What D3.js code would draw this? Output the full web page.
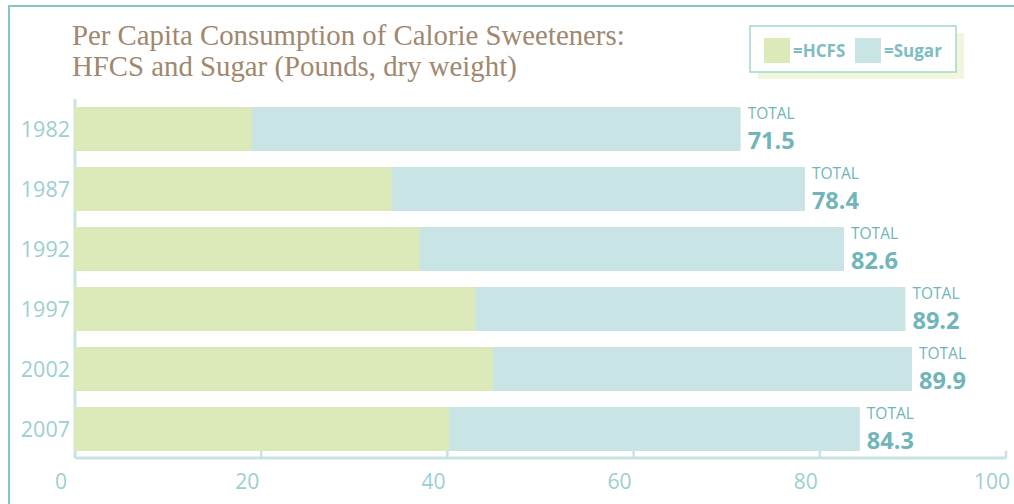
<!DOCTYPE html>
<html>
<head>
<meta charset="utf-8">
<script src="https://cdn.jsdelivr.net/npm/d3@7/dist/d3.min.js"></script>
<style>
  body { margin: 0; background: #fff; }
  svg { display: block; }
</style>
</head>
<body>
<div id="chart"></div>
<script>
'use strict';

// Data
var years = ['1982', '1987', '1992', '1997', '2002', '2007'];
var hfcs = [19.0, 34.0, 37.0, 43.0, 44.9, 40.2];
var totals = [71.5, 78.4, 82.6, 89.2, 89.9, 84.3];
var xTicks = [0, 20, 40, 60, 80, 100];
var titleLines = ['Per Capita Consumption of Calorie Sweeteners:', 'HFCS and Sugar (Pounds, dry weight)'];
var legendItems = ['=HCFS', '=Sugar'];

var W = 1014, H = 504;
var colors = {hfcs: '#dce9b9', sugar: '#c9e4e4', axis: '#c8e3e4', tick: '#9ccfd0',
  frame: '#86c6ca', title: '#a0886e', total: '#6fb5b9'};

var rows = years.map(function(y, i) {
  return {year: y, hfcs: hfcs[i], total: totals[i]};
});

var svg = d3.select('#chart').append('svg')
  .attr('width', W)
  .attr('height', H);

// Frame
svg.append('path')
  .attr('d', 'M9,' + H + 'V6H' + W)
  .attr('fill', 'none')
  .attr('stroke', colors.frame)
  .attr('stroke-width', 2);

// Scales
var x = d3.scaleLinear().domain([0, 100]).range([75, 1006]);
var y = d3.scaleBand().domain(years).range([99, 459])
  .paddingInner(16 / 60).paddingOuter(8 / 60);

// Axis frame (left line + bottom line with upward ticks)
var axisY = 458;
svg.append('line')
  .attr('x1', x(0)).attr('x2', x(0))
  .attr('y1', 99).attr('y2', axisY)
  .attr('stroke', colors.axis).attr('stroke-width', 3);

var xAxis = svg.append('g').attr('transform', 'translate(0,' + axisY + ')');
xAxis.append('line')
  .attr('x1', x(0)).attr('x2', x(100))
  .attr('stroke', colors.axis).attr('stroke-width', 3);
xAxis.selectAll('.tick').data(xTicks).enter().append('line')
  .attr('class', 'tick')
  .attr('x1', function(d) { return x(d); })
  .attr('x2', function(d) { return x(d); })
  .attr('y1', 0).attr('y2', -7)
  .attr('stroke', colors.axis).attr('stroke-width', 2.5);
xAxis.selectAll('.lbl').data(xTicks).enter().append('text')
  .attr('class', 'lbl')
  .attr('x', function(d) { return x(d) - 14; })
  .attr('y', 31)
  .attr('text-anchor', 'middle')
  .attr('font-family', 'Open Sans, sans-serif')
  .attr('font-size', 21)
  .attr('fill', colors.tick)
  .text(function(d) { return d; });

// Bars
var bars = svg.append('g');
bars.selectAll('.sugar').data(rows).enter().append('rect')
  .attr('x', x(0) - 1)
  .attr('y', function(d) { return y(d.year); })
  .attr('width', function(d) { return x(d.total) - x(0) + 1; })
  .attr('height', y.bandwidth())
  .attr('fill', colors.sugar);
bars.selectAll('.hfcs').data(rows).enter().append('rect')
  .attr('x', x(0) - 1)
  .attr('y', function(d) { return y(d.year); })
  .attr('width', function(d) { return x(d.hfcs) - x(0) + 1; })
  .attr('height', y.bandwidth())
  .attr('fill', colors.hfcs);

// Year labels
svg.selectAll('.year').data(rows).enter().append('text')
  .attr('x', 70)
  .attr('y', function(d) { return y(d.year) + y.bandwidth() / 2 + 8; })
  .attr('text-anchor', 'end')
  .attr('font-family', 'Open Sans, sans-serif')
  .attr('font-size', 21.5)
  .attr('fill', colors.tick)
  .text(function(d) { return d.year; });

// Total labels
var totalG = svg.selectAll('.total').data(rows).enter().append('g')
  .attr('class', 'total')
  .attr('transform', function(d) { return 'translate(' + (x(d.total) + 7) + ',' + y(d.year) + ')'; });
totalG.append('text')
  .attr('y', 12)
  .attr('font-family', 'Open Sans, sans-serif')
  .attr('font-size', 15.5)
  .attr('fill', colors.total)
  .text('TOTAL');
totalG.append('text')
  .attr('y', 42)
  .attr('font-family', 'Open Sans, sans-serif')
  .attr('font-weight', 'bold')
  .attr('font-size', 23.5)
  .attr('fill', colors.total)
  .text(function(d) { return d3.format('.1f')(d.total); });

// Title
svg.selectAll('.title').data(titleLines).enter().append('text')
  .attr('x', 72)
  .attr('y', function(d, i) { return 45 + i * 31; })
  .attr('font-family', 'Liberation Serif, serif')
  .attr('font-size', 28.8)
  .attr('fill', colors.title)
  .text(function(d) { return d; });

// Legend
var legend = svg.append('g').attr('transform', 'translate(750,26)');
legend.append('rect')
  .attr('x', 8).attr('y', 7).attr('width', 206).attr('height', 46)
  .attr('fill', '#f1f6dd');
legend.append('rect')
  .attr('x', 0).attr('y', 0).attr('width', 206).attr('height', 46)
  .attr('fill', '#fff')
  .attr('stroke', '#a6d4d6').attr('stroke-width', 1.5);
var legendX = [14, 105];
var legendFill = [colors.hfcs, colors.sugar];
legendItems.forEach(function(t, i) {
  legend.append('rect')
    .attr('x', legendX[i]).attr('y', 12).attr('width', 26).attr('height', 25)
    .attr('fill', legendFill[i]);
  legend.append('text')
    .attr('x', legendX[i] + 29).attr('y', 31)
    .attr('font-family', 'Open Sans, sans-serif')
    .attr('font-weight', 'bold')
    .attr('font-size', 17)
    .attr('fill', '#7dbdc1')
    .text(t);
});
</script>
</body>
</html>
